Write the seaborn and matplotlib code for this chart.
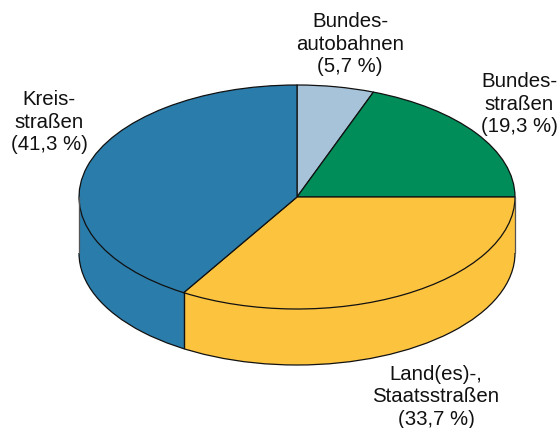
"""
Share of road network by road class, drawn as a tilted pie with a side wall.
"""
import matplotlib
matplotlib.use("Agg")
import matplotlib.pyplot as plt
from matplotlib.patches import Arc
import seaborn as sns

sns.set_theme(style="white")
plt.rcParams['font.family'] = ['Liberation Sans', 'DejaVu Sans']

# Data
road_labels = ["Bundes-\nautobahnen\n(5,7 %)", "Bundes-\nstraßen\n(19,3 %)",
               "Land(es)-,\nStaatsstraßen\n(33,7 %)", "Kreis-\nstraßen\n(41,3 %)"]
road_shares = [5.7, 19.3, 33.7, 41.3]
top_colors = ["#a6c3d9", "#008d5a", "#fcc33f", "#2a7cab"]

W, H = 560, 428
CX, CY, RX, RY = 297, 197, 218, 112
DEPTH = 56 / RY  # wall height in pie radii
LINE = "#111111"


def draw_pie(ax, yshift, **kwargs):
    """Draw the slices at a vertical offset, clockwise from 12 o'clock."""
    return ax.pie(road_shares, colors=top_colors, startangle=90, counterclock=False,
                  center=(0, yshift), radius=1, normalize=True, **kwargs)


fig = plt.figure(figsize=(W / 100, H / 100), dpi=100)
ax = fig.add_axes([0, 0, 1, 1])

# Stack of pies makes the wall, the top one carries the outlines
for i in range(56, 0, -1):
    draw_pie(ax, -DEPTH * i / 56, wedgeprops={"linewidth": 0.6, "edgecolor": "none"})
draw_pie(ax, 0, wedgeprops={"linewidth": 0.9, "edgecolor": LINE, "joinstyle": "round"})

ax.set_aspect("auto")
ax.set_xlim(-CX / RX, (W - CX) / RX)
ax.set_ylim(-(H - CY) / RY, CY / RY)

# Front arc of the bottom edge and the wall verticals
ax.add_patch(Arc((0, -DEPTH), 2, 2, theta1=180, theta2=360, color=LINE, lw=0.9, zorder=5))
ax.plot([-1, -1], [0, -DEPTH], color="#555555", lw=0.9, zorder=5)
ax.plot([1, 1], [0, -DEPTH], color="#555555", lw=0.9, zorder=5)
seam_x, seam_y = (184 - CX) / RX, -(292 - CY) / RY
ax.plot([seam_x, seam_x], [seam_y, seam_y - DEPTH], color=LINE, lw=1.0, zorder=5)
ax.axis("off")

# Labels (pixel position of each block centre)
label_pos = [(350, 44), (519, 104), (436, 397), (49, 122)]
for text, (px, py) in zip(road_labels, label_pos):
    ax.text(px / W, 1 - py / H, text, transform=ax.transAxes, ha="center", va="center",
            fontsize=14.7, color="#111111", linespacing=1.22)

fig.savefig("out.png", dpi=100)
